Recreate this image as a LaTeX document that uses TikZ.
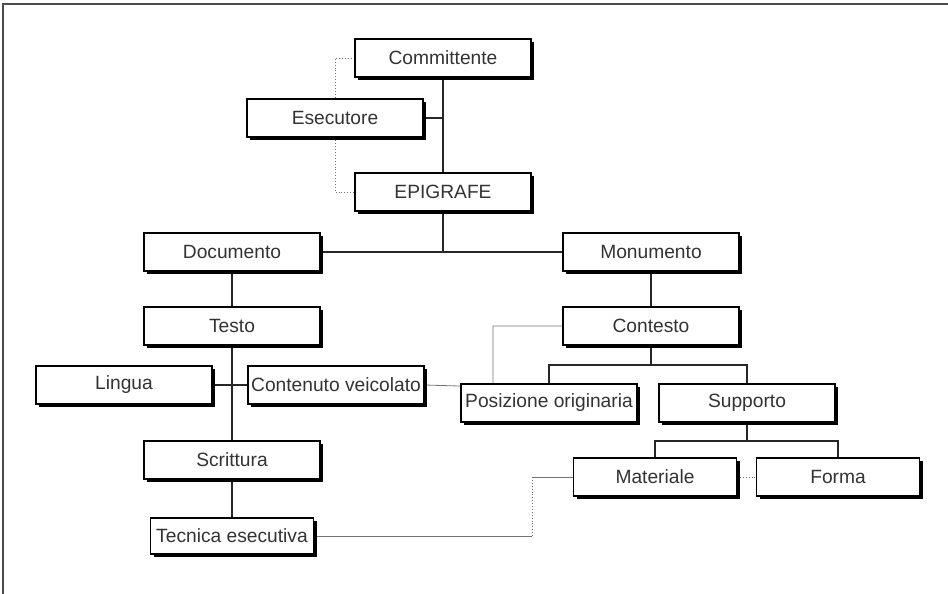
\documentclass[tikz,border=0pt]{standalone}
\usepackage{fontspec}
\setmainfont{Liberation Sans}
\usetikzlibrary{shadows,backgrounds}
\definecolor{txt}{HTML}{333333}
\tikzset{
  box/.style={draw=black, line width=1.1pt, fill=white, minimum width=176pt, minimum height=38pt,
    inner sep=0pt, text=txt, font=\fontsize{19.2}{22}\selectfont,
    drop shadow={shadow xshift=3pt, shadow yshift=-3pt, fill=black, opacity=1}},
  smallbox/.style={box, minimum width=163pt},
  tree/.style={draw=black!85, line width=1.1pt},
  grayline/.style={draw=black!55, line width=0.8pt},
  dotline/.style={draw=black!55, line width=0.9pt, dotted},
}
\begin{document}
\begin{tikzpicture}[x=1pt,y=-1pt]
\useasboundingbox (0,0) rectangle (948,594);
\draw[draw=black!70, line width=1.6pt] (948,4) -- (3,4) -- (3,594);

\node[box] (comm) at (443,58) {Committente};
\node[box] (esec) at (335,118) {Esecutore};
\node[box] (epi) at (443,192) {EPIGRAFE};
\node[box] (doc) at (232,252) {Documento};
\node[box] (mon) at (651,252) {Monumento};
\node[box] (testo) at (232,326) {Testo};
\node[box] (cont) at (651,326) {Contesto};
\node[box] (ling) at (124,385) {Lingua};
\node[box] (contv) at (336,385) {Contenuto veicolato};
\node[box] (pos) at (549,403) {Posizione originaria};
\node[box] (supp) at (747,403) {Supporto};
\node[box] (scr) at (232,460) {Scrittura};
\node[smallbox] (mat) at (655,477) {Materiale};
\node[smallbox] (forma) at (838,477) {Forma};
\node[smallbox, minimum height=36pt] (tec) at (232,536) {Tecnica esecutiva};

\coordinate (j1) at (443,252);
\coordinate (j2) at (651,365);
\coordinate (j3) at (747,441);
\coordinate (gx1) at (493,0);
\coordinate (gx2) at (532,0);

\begin{scope}[on background layer]
\draw[tree] (comm.south) -- (epi.north);
\draw[tree] (esec.east) -- (esec.east -| comm.south);
\draw[dotline] (comm.west) -| (esec.north);
\draw[dotline] (esec.south) |- (epi.west);
\draw[tree] (epi.south) -- (j1);
\draw[tree] (doc.east) -- (mon.west);
\draw[tree] (doc.south) -- (testo.north);
\draw[tree] (testo.south) -- (scr.north);
\draw[tree] (scr.south) -- (tec.north);
\draw[tree] (ling.east) -- (contv.west);
\draw[tree] (mon.south) -- (cont.north);
\draw[tree] (cont.south) -- (j2);
\draw[tree] (pos.north) |- (j2) -| (supp.north);
\draw[tree] (supp.south) -- (j3);
\draw[tree] (mat.north) |- (j3) -| (forma.north);
\draw[grayline] (contv.east) -- ([yshift=-2pt]contv.east -| gx1) |- (cont.west);
\draw[dotline] (mat.east) -- (forma.west);
\draw[grayline] (mat.west) -- (mat.west -| gx2);
\draw[dotline] (mat.west -| gx2) -- (tec.east -| gx2);
\draw[grayline] (tec.east) -- (tec.east -| gx2);
\end{scope}
\end{tikzpicture}
\end{document}
